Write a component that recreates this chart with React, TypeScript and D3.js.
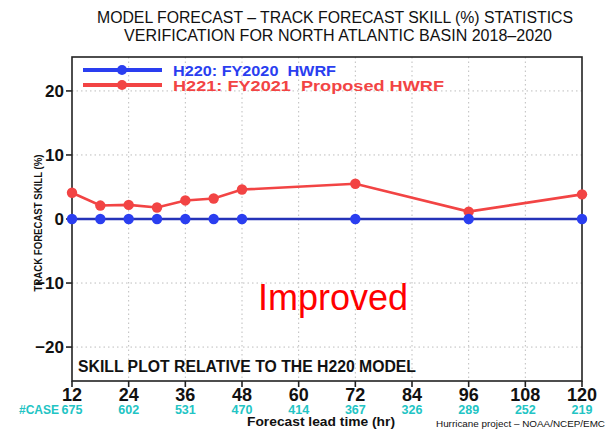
import React, { useEffect, useRef } from 'react';
import * as d3 from 'd3';

const leadTimes = [12, 18, 24, 30, 36, 42, 48, 72, 96, 120];
const h220Skill = [0, 0, 0, 0, 0, 0, 0, 0, 0, 0];
const h221Skill = [4.1, 2.1, 2.2, 1.8, 2.9, 3.2, 4.6, 5.5, 1.15, 3.85];
const xTicks = [12, 24, 36, 48, 60, 72, 84, 96, 108, 120];
const caseCounts = [675, 602, 531, 470, 414, 367, 326, 289, 252, 219];
const yTicks = [-20, -10, 0, 10, 20];

const BLUE = '#2a3ef0';
const BLUE_LINE = '#2533b8';
const RED = '#f24444';
const CYAN = '#22c4c4';
const FONT = '"Liberation Sans", Arial, sans-serif';

const App: React.FC = () => {
  const svgRef = useRef<SVGSVGElement>(null);

  useEffect(() => {
    document.body.style.margin = '0';
    if (!svgRef.current) return;
    const svg = d3.select(svgRef.current);
    svg.selectAll('*').remove();

    const left = 72, right = 582, top = 57, bottom = 381;
    const x = d3.scaleLinear().domain([12, 120]).range([left, right]);
    const y = d3.scaleLinear().domain([-25.3, 25.3]).range([bottom, top]);

    svg.append('rect').attr('width', 610).attr('height', 429).attr('fill', '#fff');

    // titles
    const title = [
      { t: 'MODEL FORECAST \u2013 TRACK FORECAST SKILL (%) STATISTICS', x: 97, w: 476, y: 23 },
      { t: 'VERIFICATION FOR NORTH ATLANTIC BASIN 2018\u20132020', x: 124, w: 428, y: 41 },
    ];
    title.forEach((d) => {
      svg.append('text')
        .attr('x', d.x).attr('y', d.y)
        .attr('font-family', FONT).attr('font-size', 16)
        .attr('textLength', d.w).attr('lengthAdjust', 'spacingAndGlyphs')
        .attr('fill', '#111')
        .text(d.t);
    });

    // grid
    const grid = svg.append('g').attr('stroke', '#bdbdbd').attr('stroke-width', 1).attr('stroke-dasharray', '1.5,3');
    xTicks.slice(1, -1).forEach((t) => {
      grid.append('line').attr('x1', x(t)).attr('x2', x(t)).attr('y1', top).attr('y2', bottom);
    });
    yTicks.filter((t) => t !== 0).forEach((t) => {
      grid.append('line').attr('x1', left).attr('x2', right).attr('y1', y(t)).attr('y2', y(t));
    });

    // frame
    svg.append('rect')
      .attr('x', left).attr('y', top).attr('width', right - left).attr('height', bottom - top)
      .attr('fill', 'none').attr('stroke', '#222').attr('stroke-width', 1.6);

    // y axis ticks
    yTicks.forEach((t) => {
      svg.append('line').attr('x1', left - 6).attr('x2', left).attr('y1', y(t)).attr('y2', y(t))
        .attr('stroke', '#222').attr('stroke-width', 1.6);
      svg.append('text')
        .attr('x', left - 8).attr('y', y(t) + 6)
        .attr('text-anchor', 'end')
        .attr('font-family', FONT).attr('font-size', 17).attr('font-weight', 'bold')
        .attr('fill', '#111')
        .text(t < 0 ? `\u2212${-t}` : `${t}`);
    });

    // x axis ticks
    xTicks.forEach((t, i) => {
      svg.append('line').attr('x1', x(t)).attr('x2', x(t)).attr('y1', bottom).attr('y2', bottom + 6)
        .attr('stroke', '#222').attr('stroke-width', 1.6);
      svg.append('text')
        .attr('x', x(t)).attr('y', 401)
        .attr('text-anchor', 'middle')
        .attr('font-family', FONT).attr('font-size', 18).attr('font-weight', 'bold')
        .attr('fill', '#111')
        .text(t);
      svg.append('text')
        .attr('x', x(t)).attr('y', 414)
        .attr('text-anchor', 'middle')
        .attr('font-family', FONT).attr('font-size', 12.5).attr('font-weight', 'bold')
        .attr('fill', CYAN)
        .text(caseCounts[i]);
    });
    svg.append('text')
      .attr('x', 19).attr('y', 414)
      .attr('font-family', FONT).attr('font-size', 12.5).attr('font-weight', 'bold')
      .attr('textLength', 40).attr('lengthAdjust', 'spacingAndGlyphs')
      .attr('fill', CYAN)
      .text('#CASE');

    svg.append('text')
      .attr('x', 247).attr('y', 426)
      .attr('font-family', FONT).attr('font-size', 12.5).attr('font-weight', 'bold')
      .attr('textLength', 148).attr('lengthAdjust', 'spacingAndGlyphs')
      .attr('fill', '#111')
      .text('Forecast lead time (hr)');
    svg.append('text')
      .attr('x', 436).attr('y', 427)
      .attr('font-family', FONT).attr('font-size', 9)
      .attr('textLength', 169).attr('lengthAdjust', 'spacingAndGlyphs')
      .attr('fill', '#111')
      .text('Hurricane project \u2013 NOAA/NCEP/EMC');

    svg.append('text')
      .attr('transform', `translate(42, 223) rotate(-90)`)
      .attr('text-anchor', 'middle')
      .attr('font-family', FONT).attr('font-size', 11.5).attr('font-weight', 'bold')
      .attr('textLength', 137).attr('lengthAdjust', 'spacingAndGlyphs')
      .attr('fill', '#111')
      .text('TRACK FORECAST SKILL (%)');

    svg.append('text')
      .attr('x', 78).attr('y', 372)
      .attr('font-family', FONT).attr('font-size', 16).attr('font-weight', 'bold')
      .attr('textLength', 338).attr('lengthAdjust', 'spacingAndGlyphs')
      .attr('fill', '#111')
      .text('SKILL PLOT RELATIVE TO THE H220 MODEL');

    svg.append('text')
      .attr('x', 258).attr('y', 310)
      .attr('font-family', FONT).attr('font-size', 36)
      .attr('fill', '#ff0000')
      .text('Improved');

    // series
    const line = d3.line<number>().x((_, i) => x(leadTimes[i])).y((d) => y(d));
    const series = [
      { vals: h221Skill, stroke: RED, dot: RED },
      { vals: h220Skill, stroke: BLUE_LINE, dot: BLUE },
    ];
    series.forEach((s) => {
      svg.append('path').attr('d', line(s.vals)!).attr('fill', 'none')
        .attr('stroke', s.stroke).attr('stroke-width', 2.6);
      s.vals.forEach((v, i) => {
        svg.append('circle').attr('cx', x(leadTimes[i])).attr('cy', y(v)).attr('r', 5.2).attr('fill', s.dot);
      });
    });

    // legend
    const legend = [
      { label: 'H220: FY2020  HWRF', color: BLUE, y: 70, w: 163 },
      { label: 'H221: FY2021  Proposed HWRF', color: RED, y: 85, w: 271 },
    ];
    legend.forEach((l) => {
      svg.append('line').attr('x1', 83).attr('x2', 162).attr('y1', l.y).attr('y2', l.y)
        .attr('stroke', l.color).attr('stroke-width', 4);
      svg.append('circle').attr('cx', 122).attr('cy', l.y).attr('r', 5).attr('fill', l.color);
      svg.append('text')
        .attr('x', 173).attr('y', l.y + 5.5)
        .attr('font-family', FONT).attr('font-size', 15).attr('font-weight', 'bold')
        .attr('textLength', l.w).attr('lengthAdjust', 'spacingAndGlyphs')
        .attr('fill', l.color)
        .attr('xml:space', 'preserve')
        .style('white-space', 'pre')
        .text(l.label);
    });
  }, []);

  return <svg ref={svgRef} width={610} height={429} style={{ display: 'block' }} />;
};

export default App;
